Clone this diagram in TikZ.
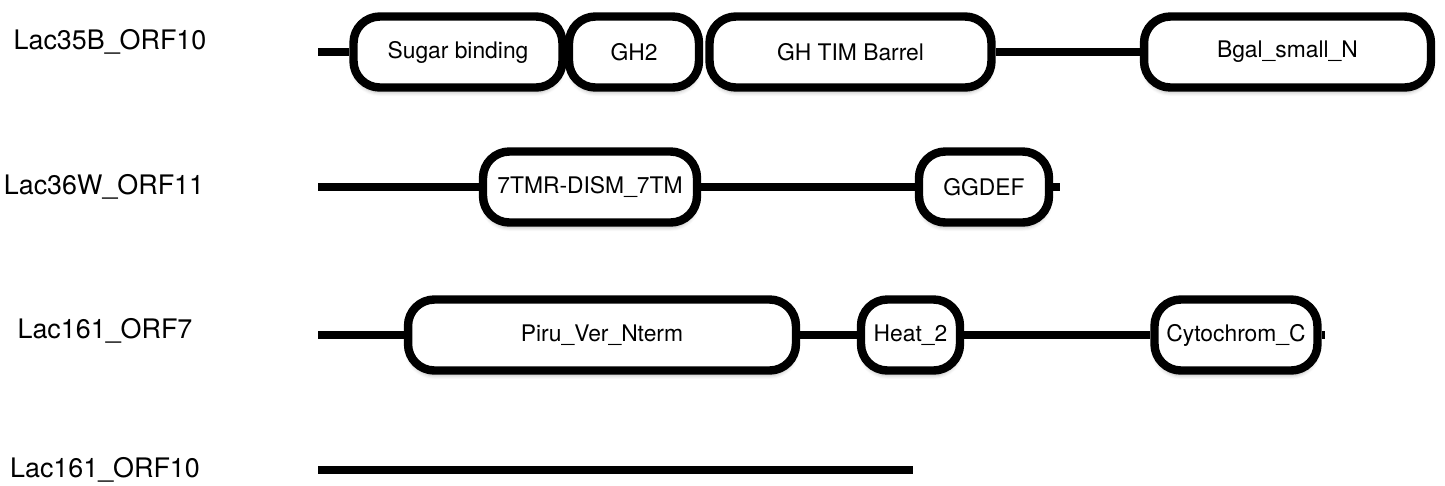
\documentclass[tikz,border=0pt]{standalone}
\usepackage{fontspec}
\setmainfont{TeX Gyre Heros}
\usetikzlibrary{positioning,shadows.blur}

\begin{document}
\begin{tikzpicture}[
  x=0.02cm, y=-0.02cm,
  every node/.style={font=\fontsize{13}{15}\selectfont},
  orf/.style={font=\fontsize{15.3}{17}\selectfont},
  pfambox/.style={draw=black,fill=white,line width=4.8pt,rounded corners=15pt,
    minimum height=1.42cm,inner sep=0pt,
    blur shadow={shadow xshift=0pt,shadow yshift=-3pt,shadow blur steps=6,shadow opacity=25}},
  chain/.style={line width=4.5pt,line cap=butt}
]
  \useasboundingbox (0,0) rectangle (1445,485);

  % labels
  \node[orf] (l1) at (110,42) {Lac35B\_ORF10};
  \node[orf] (l2) at (104,187) {Lac36W\_ORF11};
  \node[orf] (l3) at (105,331) {Lac161\_ORF7};
  \node[orf] (l4) at (105,470) {Lac161\_ORF10};

  % Lac35B_ORF10
  \coordinate (s1) at (318,52);
  \node[pfambox,minimum width=4.18cm] (sugar) at (458,52) {Sugar binding};
  \node[pfambox,minimum width=2.6cm] (gh2) at (634,52) {GH2};
  \node[pfambox,minimum width=5.64cm] (tim) at (850.5,52) {GH TIM Barrel};
  \node[pfambox,minimum width=5.74cm] (bgal) at (1287.5,52) {Bgal\_small\_N};
  \draw[chain] (s1) -- (sugar);
  \draw[chain] (tim) -- (bgal);

  % Lac36W_ORF11
  \coordinate (s2) at (318,187);
  \coordinate (e2) at (1060,187);
  \node[pfambox,minimum width=4.28cm] (tmr) at (590,187) {7TMR-DISM\_7TM};
  \node[pfambox,minimum width=2.6cm] (ggdef) at (984,187) {GGDEF};
  \draw[chain] (s2) -- (tmr) -- (ggdef) -- (e2);

  % Lac161_ORF7
  \coordinate (s3) at (318,335);
  \coordinate (e3) at (1325,335);
  \node[pfambox,minimum width=7.76cm] (piru) at (602,335) {Piru\_Ver\_Nterm};
  \node[pfambox,minimum width=1.98cm] (heat) at (910.5,335) {Heat\_2};
  \node[pfambox,minimum width=3.26cm] (cyto) at (1236,335) {Cytochrom\_C};
  \draw[chain] (s3) -- (piru) -- (heat) -- (cyto) -- (e3);

  % Lac161_ORF10
  \coordinate (s4) at (318,470);
  \coordinate (e4) at (913,470);
  \draw[chain] (s4) -- (e4);
\end{tikzpicture}
\end{document}
